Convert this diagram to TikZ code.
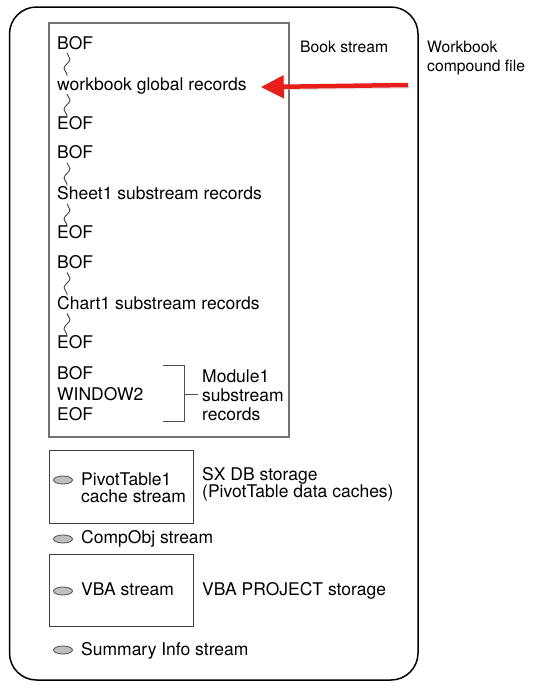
\documentclass[tikz,border=0pt]{standalone}
\usepackage{fontspec}
\setmainfont{TeX Gyre Heros}
\usepackage{xcolor}
\usepackage{tikz}
\usetikzlibrary{shapes,arrows.meta,positioning,decorations.pathmorphing}

\definecolor{arrowred}{RGB}{232,30,26}
\tikzset{
    lbl/.style={anchor=base west, inner sep=0pt, align=left},
    small lbl/.style={lbl, font=\fontsize{15.7}{19}\selectfont},
    squig/.style={draw=black!80, line width=0.8pt, decorate,
        decoration={snake, segment length=19pt, amplitude=3pt}},
    streambox/.style={draw=black!75, line width=1pt},
    oval/.style={ellipse, draw=black!70, fill=black!25, line width=0.8pt,
        minimum width=19pt, minimum height=8pt, inner sep=0pt},
}

\begin{document}
\begin{tikzpicture}[x=1pt, y=-1pt, every node/.style={font=\fontsize{17.5}{19}\selectfont}]
    \useasboundingbox (0,0) rectangle (534,689);

    % Workbook compound file
    \draw[line width=1.5pt, rounded corners=27pt] (9.5,7) rectangle (418,680);
    \node[small lbl] (wbfile) at (427,71) {Workbook\\compound file};

    % Book stream
    \draw[draw=black!55, line width=1.1pt] (49,23) rectangle (289,437);
    \node[small lbl] (book) at (300,52) {Book stream};

    \foreach \i/\rec in {0/workbook global records, 1/Sheet1 substream records, 2/Chart1 substream records} {
        \node[lbl] (bof\i) at (57,49+109.7*\i) {BOF};
        \node[lbl] (rec\i) at (57,90+109.7*\i) {\rec};
        \node[lbl] (eof\i) at (57,129+109.7*\i) {EOF};
        \draw[squig] ([shift={(10,4)}]bof\i.base west) -- ([shift={(10,-14)}]rec\i.base west);
        \draw[squig] ([shift={(10,4)}]rec\i.base west) -- ([shift={(10,-13)}]eof\i.base west);
    }

    % Module1 substream
    \node[lbl] (bof3) at (57,379) {BOF};
    \node[lbl] (win3) at (57,400) {WINDOW2};
    \node[lbl] (eof3) at (57,420) {EOF};
    \node[lbl] (mod) at (202,420) {Module1\\substream\\records};
    \coordinate (brk) at (184,365);
    \draw[black!70, line width=1pt] (163,365) -- (brk) -- (184,421) -- (163,421);
    \draw[black!70, line width=1pt] (brk |- mod.west) -- ([xshift=-4pt]mod.west);

    % SX DB storage
    \draw[streambox] (49,450) rectangle (193,523);
    \node[oval] (ov1) at (63,480) {};
    \node[lbl, font=\fontsize{17.5}{17}\selectfont] (pivot) at (81,502) {PivotTable1\\cache stream};
    \node[lbl, font=\fontsize{17.5}{17}\selectfont] (sxdb) at (202,497) {SX DB storage\\(PivotTable data caches)};

    % CompObj stream
    \node[oval] (ov2) at (63,539) {};
    \node[lbl] (compobj) at (81,543) {CompObj stream};

    % VBA PROJECT storage
    \draw[streambox] (49,554) rectangle (193,626);
    \node[oval] (ov3) at (63,591) {};
    \node[lbl] (vba) at (81,595) {VBA stream};
    \node[lbl] (vbaproj) at (202,595) {VBA PROJECT storage};

    % Summary Info stream
    \node[oval] (ov4) at (63,650) {};
    \node[lbl] (summary) at (81,655) {Summary Info stream};

    % red arrow
    \coordinate (tail) at (408,85);
    \draw[black!25, opacity=0.4, line width=4pt, -{Triangle[length=23pt,width=22pt]}]
        ([shift={(1,1.5)}]tail) -- ([shift={(15,3)}]rec0.east);
    \draw[arrowred, line width=4.5pt, -{Triangle[length=23pt,width=22pt]}]
        (tail) -- ([shift={(14,1.5)}]rec0.east);
\end{tikzpicture}
\end{document}
